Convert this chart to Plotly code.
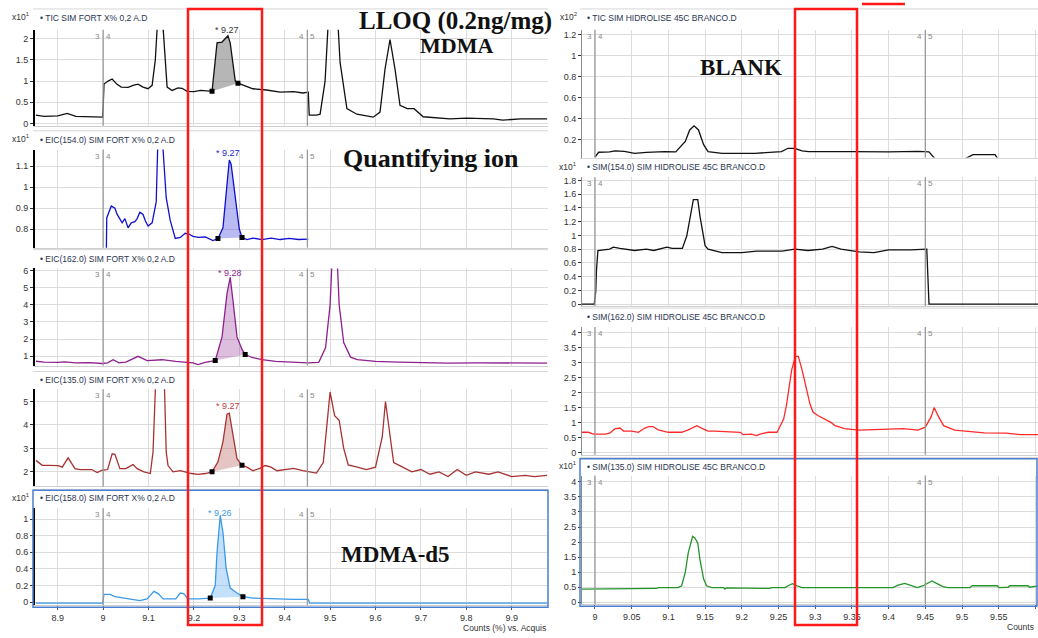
import plotly.graph_objects as go

W, H = 1038, 638

# ---------------- data : left column (FORT X% 0,2 A.D) ----------------
tic_x = [8.852, 8.87, 8.90, 8.921, 8.94, 8.97, 8.993, 8.999, 9.0, 9.002, 9.011, 9.020, 9.030, 9.040, 9.055,
         9.066, 9.077, 9.088, 9.099, 9.108, 9.115, 9.121, 9.130, 9.136, 9.141, 9.152, 9.165, 9.174, 9.185,
         9.20, 9.215, 9.240, 9.251, 9.262, 9.275, 9.280, 9.291, 9.297, 9.317, 9.33, 9.36, 9.39, 9.42, 9.44,
         9.452, 9.454, 9.470, 9.478, 9.489, 9.498, 9.515, 9.522, 9.537, 9.559, 9.595, 9.610, 9.621, 9.632,
         9.643, 9.654, 9.670, 9.685, 9.705, 9.764, 9.80, 9.86, 9.88, 9.92, 9.978]
tic_y = [0.20, 0.17, 0.18, 0.24, 0.17, 0.16, 0.14, 0.15, 0.35, 0.93, 1.0, 1.05, 0.93, 0.86, 0.85,
         0.90, 0.93, 0.86, 0.82, 0.90, 1.5, 2.6, 2.6, 1.5, 0.86, 0.78, 0.84, 0.83, 0.76,
         0.75, 0.78, 0.76, 1.90, 1.92, 2.07, 1.90, 1.01, 0.95, 0.86, 0.82, 0.79, 0.74, 0.75, 0.72,
         0.74, 0.20, 0.20, 0.22, 1.0, 2.8, 2.8, 1.44, 0.35, 0.22, 0.15, 0.27, 1.28, 1.98,
         1.28, 0.43, 0.35, 0.35, 0.16, 0.11, 0.13, 0.11, 0.08, 0.11, 0.11]
tic_bounds = [9.240, 9.297]

eic154_x = [9.007, 9.008, 9.018, 9.026, 9.031, 9.042, 9.048, 9.055, 9.062, 9.070, 9.075, 9.081, 9.088, 9.093,
            9.099, 9.108, 9.117, 9.121, 9.130, 9.139, 9.148, 9.154, 9.159, 9.170, 9.181, 9.190, 9.198, 9.21,
            9.225, 9.242, 9.253, 9.264, 9.273, 9.278, 9.282, 9.291, 9.300, 9.306, 9.317, 9.33, 9.35, 9.37,
            9.39, 9.41, 9.43, 9.452]
eic154_y = [0.65, 0.853, 0.91, 0.90, 0.87, 0.83, 0.85, 0.806, 0.83, 0.835, 0.85, 0.88, 0.87, 0.84,
            0.815, 0.83, 0.93, 1.25, 1.25, 0.95, 0.84, 0.79, 0.755, 0.76, 0.78, 0.775, 0.765, 0.76,
            0.762, 0.745, 0.755, 0.806, 1.03, 1.13, 1.11, 0.95, 0.80, 0.76, 0.75, 0.757, 0.75, 0.757,
            0.75, 0.755, 0.75, 0.752]
eic154_bounds = [9.253, 9.306]

eic162_x = [8.852, 8.87, 8.901, 8.915, 8.94, 8.97, 8.998, 9.010, 9.022, 9.035, 9.05, 9.077, 9.097, 9.13,
            9.16, 9.185, 9.198, 9.209, 9.225, 9.247, 9.262, 9.273, 9.280, 9.286, 9.295, 9.306, 9.313,
            9.328, 9.35, 9.38, 9.42, 9.45, 9.475, 9.49, 9.50, 9.505, 9.515, 9.52, 9.53, 9.545, 9.56,
            9.60, 9.65, 9.70, 9.76, 9.82, 9.88, 9.978]
eic162_y = [0.71, 0.66, 0.64, 0.68, 0.62, 0.63, 0.58, 0.62, 0.80, 0.62, 0.66, 1.0, 0.75, 0.80,
            0.70, 0.64, 0.62, 0.52, 0.64, 0.75, 2.13, 4.67, 5.6, 4.27, 2.13, 1.4, 1.1,
            0.93, 0.80, 0.70, 0.64, 0.62, 0.65, 1.5, 4.0, 7.0, 7.0, 4.0, 1.8, 0.95, 0.80,
            0.70, 0.66, 0.62, 0.60, 0.62, 0.60, 0.60]
eic162_bounds = [9.247, 9.313]

eic135_x = [8.852, 8.866, 8.88, 8.901, 8.91, 8.923, 8.938, 8.95, 8.975, 8.987, 8.998, 9.01, 9.020, 9.026,
            9.037, 9.05, 9.066, 9.075, 9.090, 9.104, 9.110, 9.117, 9.134, 9.139, 9.143, 9.154, 9.170,
            9.185, 9.195, 9.209, 9.225, 9.240, 9.253, 9.264, 9.273, 9.278, 9.286, 9.295, 9.306, 9.317,
            9.330, 9.345, 9.357, 9.37, 9.383, 9.40, 9.42, 9.44, 9.452, 9.47, 9.485, 9.495, 9.50, 9.51,
            9.52, 9.53, 9.54, 9.56, 9.58, 9.60, 9.615, 9.622, 9.63, 9.64, 9.66, 9.68, 9.70, 9.72, 9.74,
            9.76, 9.78, 9.80, 9.82, 9.85, 9.87, 9.90, 9.93, 9.95, 9.978]
eic135_y = [2.49, 2.28, 2.28, 2.27, 2.2, 2.6, 2.14, 2.1, 2.1, 1.97, 2.07, 2.1, 2.77, 2.75,
            2.14, 2.14, 2.31, 2.14, 2.0, 1.93, 2.85, 6.5, 6.5, 2.85, 2.27, 2.0, 2.05,
            1.97, 1.93, 1.89, 1.93, 2.0, 2.43, 3.28, 4.46, 4.5, 3.54, 2.56, 2.28, 2.2,
            2.05, 2.15, 2.27, 2.2, 2.05, 2.1, 2.15, 2.05, 2.0, 1.95, 2.4, 4.5, 5.4, 4.4,
            4.2, 3.0, 2.3, 2.2, 2.1, 2.2, 3.5, 5.0, 3.8, 2.4, 2.2, 2.0, 2.1, 1.9, 2.0,
            1.8, 2.1, 1.85, 2.0, 1.9, 2.0, 1.8, 1.85, 1.8, 1.85]
eic135_bounds = [9.240, 9.306]

eic158_x = [8.852, 8.999, 9.002, 9.015, 9.026, 9.05, 9.081, 9.097, 9.112, 9.122, 9.132, 9.16, 9.170, 9.178,
            9.187, 9.21, 9.236, 9.247, 9.251, 9.258, 9.264, 9.271, 9.280, 9.295, 9.308, 9.33, 9.37,
            9.42, 9.452, 9.455, 9.978]
eic158_y = [-0.01, -0.01, 0.095, 0.095, 0.067, 0.05, 0.02, 0.04, 0.13, 0.10, 0.04, 0.04, 0.11, 0.10,
            0.04, 0.04, 0.05, 0.2, 0.6, 1.04, 0.84, 0.41, 0.17, 0.11, 0.067, 0.05, 0.04,
            0.035, 0.035, -0.01, -0.01]
eic158_bounds = [9.236, 9.308]

# ---------------- data : right column (HIDROLISE 45C BRANCO.D) ----------------
btic_x = [9.0, 9.005, 9.02, 9.027, 9.04, 9.054, 9.07, 9.095, 9.11, 9.123, 9.129, 9.135, 9.141, 9.148,
          9.154, 9.173, 9.218, 9.254, 9.263, 9.272, 9.282, 9.291, 9.35, 9.40, 9.44, 9.455, 9.465,
          9.50, 9.515, 9.545, 9.55, 9.604]
btic_y = [0.03, 0.077, 0.08, 0.09, 0.085, 0.067, 0.075, 0.083, 0.08, 0.18, 0.29, 0.33, 0.29, 0.15,
          0.083, 0.067, 0.067, 0.083, 0.115, 0.115, 0.09, 0.083, 0.083, 0.08, 0.085, 0.08, 0.0,
          0.0, 0.055, 0.055, 0.0, 0.0]

b154_x = [8.982, 8.999, 9.001, 9.002, 9.004, 9.02, 9.025, 9.034, 9.054, 9.07, 9.08, 9.098, 9.105, 9.119,
          9.125, 9.132, 9.134, 9.140, 9.143, 9.150, 9.154, 9.173, 9.20, 9.22, 9.255, 9.272, 9.29, 9.31,
          9.323, 9.335, 9.36, 9.38, 9.40, 9.43, 9.452, 9.455, 9.604]
b154_y = [0.0, 0.0, 0.18, 0.49, 0.78, 0.80, 0.83, 0.81, 0.78, 0.80, 0.78, 0.83, 0.81, 0.81,
          0.99, 1.43, 1.52, 1.52, 1.28, 0.85, 0.80, 0.75, 0.75, 0.77, 0.77, 0.80, 0.78, 0.80,
          0.84, 0.80, 0.76, 0.75, 0.79, 0.79, 0.80, 0.0, 0.0]

b162_x = [8.982, 8.991, 8.998, 9.014, 9.020, 9.027, 9.034, 9.039, 9.050, 9.059, 9.068, 9.073, 9.079,
          9.086, 9.100, 9.118, 9.127, 9.139, 9.145, 9.154, 9.163, 9.186, 9.198, 9.202, 9.213, 9.220,
          9.225, 9.236, 9.248, 9.257, 9.261, 9.268, 9.270, 9.273, 9.277, 9.282, 9.293, 9.297, 9.304,
          9.322, 9.327, 9.34, 9.36, 9.40, 9.42, 9.44, 9.45, 9.458, 9.462, 9.468, 9.475, 9.49, 9.51,
          9.53, 9.56, 9.58, 9.604]
b162_y = [0.68, 0.68, 0.62, 0.62, 0.65, 0.79, 0.82, 0.72, 0.72, 0.68, 0.82, 0.87, 0.87,
          0.76, 0.68, 0.68, 0.76, 0.90, 0.82, 0.72, 0.72, 0.68, 0.68, 0.60, 0.62, 0.57,
          0.62, 0.68, 0.68, 1.12, 1.6, 2.76, 2.93, 3.2, 3.2, 2.76, 1.61, 1.35, 1.23,
          1.0, 0.9, 0.8, 0.75, 0.77, 0.8, 0.75, 0.85, 1.2, 1.5, 1.2, 0.9, 0.75, 0.70,
          0.66, 0.65, 0.60, 0.60]

b135_x = [8.982, 9.018, 9.020, 9.045, 9.048, 9.064, 9.066, 9.084, 9.086, 9.113, 9.118, 9.123, 9.127,
          9.133, 9.136, 9.140, 9.143, 9.148, 9.152, 9.159, 9.175, 9.177, 9.179, 9.200, 9.238, 9.241,
          9.259, 9.263, 9.269, 9.275, 9.282, 9.406, 9.413, 9.422, 9.432, 9.439, 9.447, 9.459, 9.466,
          9.474, 9.481, 9.511, 9.514, 9.548, 9.550, 9.563, 9.565, 9.59, 9.592, 9.604]
b135_y = [0.44, 0.44, 0.46, 0.46, 0.44, 0.44, 0.46, 0.46, 0.49, 0.49, 0.55, 0.99, 1.64,
          2.19, 2.14, 1.97, 1.42, 0.77, 0.55, 0.49, 0.49, 0.44, 0.48, 0.48, 0.46, 0.49,
          0.49, 0.55, 0.62, 0.55, 0.49, 0.49, 0.57, 0.63, 0.55, 0.49, 0.55, 0.71, 0.62,
          0.52, 0.49, 0.49, 0.55, 0.55, 0.49, 0.50, 0.55, 0.55, 0.50, 0.55]

# tick labels / texts
left_headers = ["• TIC SIM FORT X% 0,2 A.D", "• EIC(154.0) SIM FORT X% 0,2 A.D",
                "• EIC(162.0) SIM FORT X% 0,2 A.D", "• EIC(135.0) SIM FORT X% 0,2 A.D",
                "• EIC(158.0) SIM FORT X% 0,2 A.D"]
right_headers = ["• TIC SIM HIDROLISE 45C BRANCO.D", "• SIM(154.0) SIM HIDROLISE 45C BRANCO.D",
                 "• SIM(162.0) SIM HIDROLISE 45C BRANCO.D", "• SIM(135.0) SIM HIDROLISE 45C BRANCO.D"]
left_mult = ["x10<sup>1</sup>", "x10<sup>1</sup>", "", "", "x10<sup>1</sup>"]
right_mult = ["x10<sup>2</sup>", "x10<sup>1</sup>", "", "x10<sup>1</sup>"]
peak_labels = ["* 9.27", "* 9.27", "* 9.28", "* 9.27", "* 9.26"]
segment_marks = [(9.0, "3", "4"), (9.45, "4", "5")]

# ---------------- layout helpers ----------------
LX0, LX1 = 35, 548
RX0, RX1 = 582, 1038


def fx(px):
    return px / W


def fy(py):
    return 1 - py / H


panels = [
    # left column
    dict(x=tic_x, y=tic_y, b=tic_bounds, col="#111111", fill="rgba(110,110,110,0.5)", top=27, bot=124,
         yr=[-0.054, 2.21], dt=0.5, xl=(LX0, LX1), xr=[8.850, 9.980], xdt=0.1, x0=8.9,
         head=left_headers[0], mult=left_mult[0], hy=15, lab=peak_labels[0], lp=(227, 27), lcol="#333333"),
    dict(x=eic154_x, y=eic154_y, b=eic154_bounds, col="#1010d0", fill="rgba(60,60,220,0.35)", top=148, bot=247,
         yr=[0.711, 1.18], dt=0.1, xl=(LX0, LX1), xr=[8.850, 9.980], xdt=0.1, x0=8.9,
         head=left_headers[1], mult=left_mult[1], hy=138, lab=peak_labels[1], lp=(228, 151), lcol="#2020d0"),
    dict(x=eic162_x, y=eic162_y, b=eic162_bounds, col="#8e1f8e", fill="rgba(160,70,160,0.35)", top=268, bot=366,
         yr=[0.46, 6.12], dt=1, xl=(LX0, LX1), xr=[8.850, 9.980], xdt=0.1, x0=8.9,
         head=left_headers[2], mult=left_mult[2], hy=258, lab=peak_labels[2], lp=(230, 273), lcol="#8e1f8e"),
    dict(x=eic135_x, y=eic135_y, b=eic135_bounds, col="#a83232", fill="rgba(170,60,60,0.3)", top=390, bot=488,
         yr=[1.38, 5.52], dt=1, xl=(LX0, LX1), xr=[8.850, 9.980], xdt=0.1, x0=8.9,
         head=left_headers[3], mult=left_mult[3], hy=381, lab=peak_labels[3], lp=(228, 407), lcol="#c04040"),
    dict(x=eic158_x, y=eic158_y, b=eic158_bounds, col="#3a9ae8", fill="rgba(90,165,240,0.35)", top=510, bot=608,
         yr=[-0.037, 1.13], dt=0.2, xl=(LX0, LX1), xr=[8.850, 9.980], xdt=0.1, x0=8.9,
         head=left_headers[4], mult=left_mult[4], hy=500, lab=peak_labels[4], lp=(220, 515), lcol="#3a9ae8",
         bottom=True),
    # right column
    dict(x=btic_x, y=btic_y, b=None, col="#111111", top=27, bot=156,
         yr=[0.0265, 1.249], dt=0.2, xl=(RX0, RX1), xr=[8.9823, 9.6035], xdt=0.05, x0=9.0,
         head=right_headers[0], mult=right_mult[0], hy=15),
    dict(x=b154_x, y=b154_y, b=None, col="#111111", top=176, bot=306,
         yr=[-0.029, 1.844], dt=0.2, xl=(RX0, RX1), xr=[8.9823, 9.6035], xdt=0.05, x0=9.0,
         head=right_headers[1], mult=right_mult[1], hy=166),
    dict(x=b162_x, y=b162_y, b=None, col="#ff2a2a", top=327, bot=456,
         yr=[-0.066, 4.18], dt=0.5, xl=(RX0, RX1), xr=[8.9823, 9.6035], xdt=0.05, x0=9.0,
         head=right_headers[2], mult=right_mult[2], hy=317),
    dict(x=b135_x, y=b135_y, b=None, col="#23942a", top=477, bot=607,
         yr=[-0.066, 4.21], dt=0.5, xl=(RX0, RX1), xr=[8.9823, 9.6035], xdt=0.05, x0=9.0,
         head=right_headers[3], mult=right_mult[3], hy=468, bottom=True),
]

fig = go.Figure()
layout = {}
shapes = []
annots = []
TXT = "#333333"
GRID = "#dcdcdc"

for i, p in enumerate(panels, start=1):
    sfx = "" if i == 1 else str(i)
    xa, ya = "x" + sfx, "y" + sfx
    left_col = p["xl"][0] == LX0
    # peak area fill
    if p["b"] is not None:
        lo, hi = p["b"]
        px_ = [xv for xv in p["x"] if lo <= xv <= hi]
        py_ = [yv for xv, yv in zip(p["x"], p["y"]) if lo <= xv <= hi]
        fig.add_trace(go.Scatter(x=px_, y=py_, xaxis=xa, yaxis=ya, mode="lines", fill="toself",
                                 fillcolor=p["fill"], line=dict(width=0), hoverinfo="skip"))
    fig.add_trace(go.Scatter(x=p["x"], y=p["y"], xaxis=xa, yaxis=ya, mode="lines",
                             line=dict(color=p["col"], width=1.3), hoverinfo="skip"))
    if p["b"] is not None:
        mx = [xv for xv in p["x"] if xv in p["b"]]
        my = [yv for xv, yv in zip(p["x"], p["y"]) if xv in p["b"]]
        fig.add_trace(go.Scatter(x=mx, y=my, xaxis=xa, yaxis=ya, mode="markers",
                                 marker=dict(symbol="square", size=5, color="#000000"), hoverinfo="skip"))
        annots.append(dict(x=fx(p["lp"][0]), y=fy(p["lp"][1]), xref="paper", yref="paper", text=p["lab"],
                           showarrow=False, xanchor="center", yanchor="middle",
                           font=dict(size=9, color=p["lcol"], family="Liberation Sans")))
    bottom = p.get("bottom", False)
    layout["xaxis" + sfx] = dict(
        domain=[fx(p["xl"][0]), fx(p["xl"][1])], range=p["xr"], anchor=ya,
        tick0=p["x0"], dtick=p["xdt"], showgrid=True, gridcolor=GRID, gridwidth=1, zeroline=False,
        showticklabels=bottom, ticks="outside" if bottom else "", ticklen=4, tickcolor="#555555",
        tickfont=dict(size=9, color=TXT, family="Liberation Sans"),
        showline=True, linecolor="#cfcfcf", linewidth=1)
    layout["yaxis" + sfx] = dict(
        domain=[fy(p["bot"]), fy(p["top"])], range=p["yr"], anchor=xa, dtick=p["dt"],
        showgrid=True, gridcolor=GRID, gridwidth=1, zeroline=False,
        ticks="outside", ticklen=3, tickcolor="#333333",
        tickfont=dict(size=9, color=TXT, family="Liberation Sans"),
        showline=True, linecolor="#000000" if left_col else "#8c8c8c", linewidth=2 if left_col else 1)
    # segment lines 3|4 and 4|5
    for (sx, a, b2) in segment_marks:
        shapes.append(dict(type="line", xref=xa, yref=ya + " domain", x0=sx, x1=sx, y0=0, y1=1.0,
                           line=dict(color="#9a9a9a", width=1.3)))
        annots.append(dict(x=sx, y=1.0, xref=xa, yref=ya + " domain", text=a, showarrow=False,
                           xanchor="right", yanchor="top", xshift=-1,
                           font=dict(size=8, color="#888888", family="Liberation Sans")))
        annots.append(dict(x=sx, y=1.0, xref=xa, yref=ya + " domain", text=b2, showarrow=False,
                           xanchor="left", yanchor="top", xshift=1,
                           font=dict(size=8, color="#888888", family="Liberation Sans")))
    # header
    hx = p["xl"][0] + 3
    annots.append(dict(x=fx(hx), y=fy(p["hy"]), xref="paper", yref="paper", text=p["head"], showarrow=False,
                       xanchor="left", yanchor="middle",
                       font=dict(size=8.5, color="#2a3550", family="Liberation Sans")))
    if p["mult"]:
        annots.append(dict(x=fx(p["xl"][0] - 3), y=fy(p["hy"] - 1), xref="paper", yref="paper", text=p["mult"],
                           showarrow=False, xanchor="right", yanchor="middle",
                           font=dict(size=8.5, color=TXT, family="Liberation Sans")))
    # header separator line
    shapes.append(dict(type="line", xref="paper", yref="paper", x0=fx(p["xl"][0] - 2), x1=fx(p["xl"][1]),
                       y0=fy(p["hy"] - 9), y1=fy(p["hy"] - 9), line=dict(color="#d6d6d6", width=1)))

# selected-panel boxes (blue)
shapes.append(dict(type="rect", xref="paper", yref="paper", x0=fx(33), x1=fx(548), y0=fy(492), y1=fy(610),
                   line=dict(color="#4a7fd0", width=1.5)))
shapes.append(dict(type="rect", xref="paper", yref="paper", x0=fx(580), x1=fx(1037), y0=fy(460), y1=fy(609),
                   line=dict(color="#4a7fd0", width=1.5)))
# red highlight rectangles
shapes.append(dict(type="rect", xref="paper", yref="paper", x0=fx(188), x1=fx(262), y0=fy(6), y1=fy(628),
                   line=dict(color="#ff1a1a", width=2.5)))
shapes.append(dict(type="rect", xref="paper", yref="paper", x0=fx(795), x1=fx(857), y0=fy(6), y1=fy(628),
                   line=dict(color="#ff1a1a", width=2.5)))
shapes.append(dict(type="line", xref="paper", yref="paper", x0=fx(862), x1=fx(905), y0=fy(1), y1=fy(1),
                   line=dict(color="#ff1a1a", width=2.5)))

# big labels
big = [("LLOQ (0.2ng/mg)", 455, 18, 25), ("MDMA", 456, 43, 22), ("Quantifying ion", 431, 157, 26),
       ("BLANK", 741, 65, 23), ("MDMA-d5", 395, 557, 23)]
for t, x, y, s in big:
    annots.append(dict(x=fx(x), y=fy(y), xref="paper", yref="paper", text="<b>%s</b>" % t, showarrow=False,
                       xanchor="center", yanchor="middle",
                       font=dict(size=s, color="#111111", family="Liberation Serif")))
# axis caption (truncated as in the original)
annots.append(dict(x=fx(548), y=fy(631), xref="paper", yref="paper", text="Counts (%) vs. Acquis",
                   showarrow=False, xanchor="right", yanchor="middle",
                   font=dict(size=8.5, color=TXT, family="Liberation Sans")))
annots.append(dict(x=fx(1036), y=fy(630), xref="paper", yref="paper", text="Counts",
                   showarrow=False, xanchor="right", yanchor="middle",
                   font=dict(size=8.5, color=TXT, family="Liberation Sans")))

fig.update_layout(width=W, height=H, margin=dict(l=0, r=0, t=0, b=0), showlegend=False,
                  paper_bgcolor="white", plot_bgcolor="white", shapes=shapes, annotations=annots,
                  font=dict(family="Liberation Sans"), **layout)
fig.write_html("out.html", config={"displayModeBar": False},
               post_script="document.body.style.margin='0px';document.body.style.overflow='hidden';")
